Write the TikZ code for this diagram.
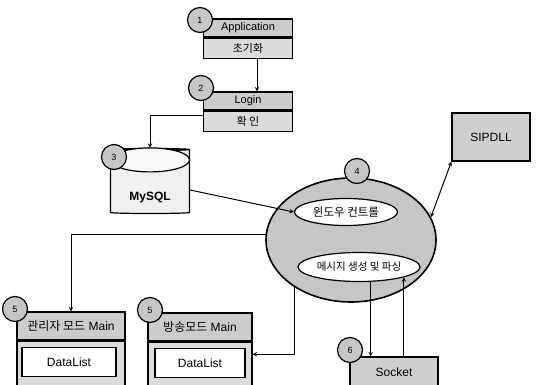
\documentclass[tikz,border=0pt]{standalone}
\usepackage{fontspec}
\setmainfont{Liberation Sans}
\newfontfamily\kr{Noto Sans CJK KR}
\usepackage{tikz}
\usetikzlibrary{positioning,shapes.geometric}

\begin{document}
\begin{tikzpicture}[
        x=1pt, y=-1pt,
        head/.style={rectangle, draw, line width=1.2pt, fill=gray!40, minimum width=89pt, minimum height=18pt, inner sep=1pt, font=\fontsize{11}{13}\selectfont},
        body/.style={rectangle, draw, line width=1.2pt, fill=gray!28, minimum width=89pt, minimum height=20pt, inner sep=1pt, font=\kr\fontsize{11}{13}\selectfont},
        num/.style={circle, draw, line width=1.2pt, fill=gray!45, minimum size=25pt, inner sep=0pt, font=\small},
        oval/.style={ellipse, draw, line width=1.2pt, fill=white, inner sep=0pt, inner xsep=-10pt, font=\kr\fontsize{11.5}{13}\selectfont},
        data/.style={rectangle, draw, line width=1.2pt, fill=white, minimum height=29pt, font=\fontsize{12}{14}\selectfont},
        unit/.style={rectangle, draw, line width=1.2pt, fill=gray!38, align=center, font=\fontsize{12}{14}\selectfont},
        arrow/.style={->, >=stealth, line width=1pt}
    ]
        \useasboundingbox (0,0) rectangle (538,385);
        \clip (0,0) rectangle (538,385);

        % Application
        \node[head] (apphead) at (248,28) {Application};
        \node[body, below=0pt of apphead] (appbody) {초기화};

        % Login
        \node[head] (loghead) at (248,101) {Login};
        \node[body, below=0pt of loghead] (logbody) {확 인};

        % MySQL
        \node[cylinder, shape border rotate=90, aspect=0.3, draw, line width=1.2pt, fill=gray!12,
              minimum width=79pt, minimum height=65pt,
              label={[anchor=south, yshift=8pt, font=\bfseries\fontsize{12}{14}\selectfont]south:MySQL}] (db) at (150,182) {};
        \draw[line width=1.2pt, fill=gray!5] ([yshift=-12pt]db.north) ellipse [x radius=39.5, y radius=12];

        % window control
        \node[ellipse, draw, line width=1.6pt, fill=gray!45, minimum width=170pt, minimum height=124pt] (ring) at (351,240) {};
        \node[oval, minimum width=103pt, minimum height=27pt] (win) at (346,212) {윈도우 컨트롤};
        \node[oval, minimum width=122pt, minimum height=29pt, font=\kr\fontsize{10.5}{12}\selectfont] (msg) at (359,267) {메시지 생성 및 파싱};

        % SIPDLL / Socket
        \node[unit, minimum width=78pt, minimum height=48pt] (sip) at (491,137) {SIPDLL};
        \node[unit, minimum width=88pt, minimum height=30pt] (sock) at (394,372) {Socket};

        % Main windows
        \node[head, minimum width=108pt, minimum height=28pt, font=\fontsize{12}{14}\selectfont] (admhead) at (71,326) {{\kr 관리자 모드} Main};
        \node[body, minimum width=108pt, minimum height=50pt, below=0pt of admhead] (admbody) {};
        \node[data, minimum width=94pt] (admdata) at (69,362) {DataList};

        \node[head, minimum width=104pt, minimum height=28pt, font=\fontsize{12}{14}\selectfont] (bchead) at (200,327) {{\kr 방송모드} Main};
        \node[body, minimum width=104pt, minimum height=50pt, below=0pt of bchead] (bcbody) {};
        \node[data, minimum width=90pt] (bcdata) at (200,363) {DataList};

        % numbers
        \node[num] (n1) at (200,20) {1};
        \node[num] (n2) at (201,88) {2};
        \node[num] (n3) at (114,157) {3};
        \node[num] (n4) at (357,171) {4};
        \node[num] (n5a) at (15,309) {5};
        \node[num] (n5b) at (150,310) {5};
        \node[num] (n6) at (350,350) {6};

        % Arrows
        \draw[arrow] ([xshift=9pt]appbody.south) -- ([xshift=9pt]loghead.north);
        \draw[arrow] ([yshift=6pt]logbody.west) -| (db.north);
        \draw[arrow] ([yshift=-8pt]db.east) -- (win.west);
        \draw[arrow] (ring.176) -| (admhead.north);
        \draw[arrow] (ring.-140) |- ([yshift=13pt]bcbody.east);
        \draw[arrow, <->] (ring.16) -- (sip.south west);
        \draw[arrow] (msg.-52) -- (msg.-52 |- sock.north);
        \draw[arrow] (msg.-13 |- sock.north) -- (msg.-13);
    \end{tikzpicture}
\end{document}
